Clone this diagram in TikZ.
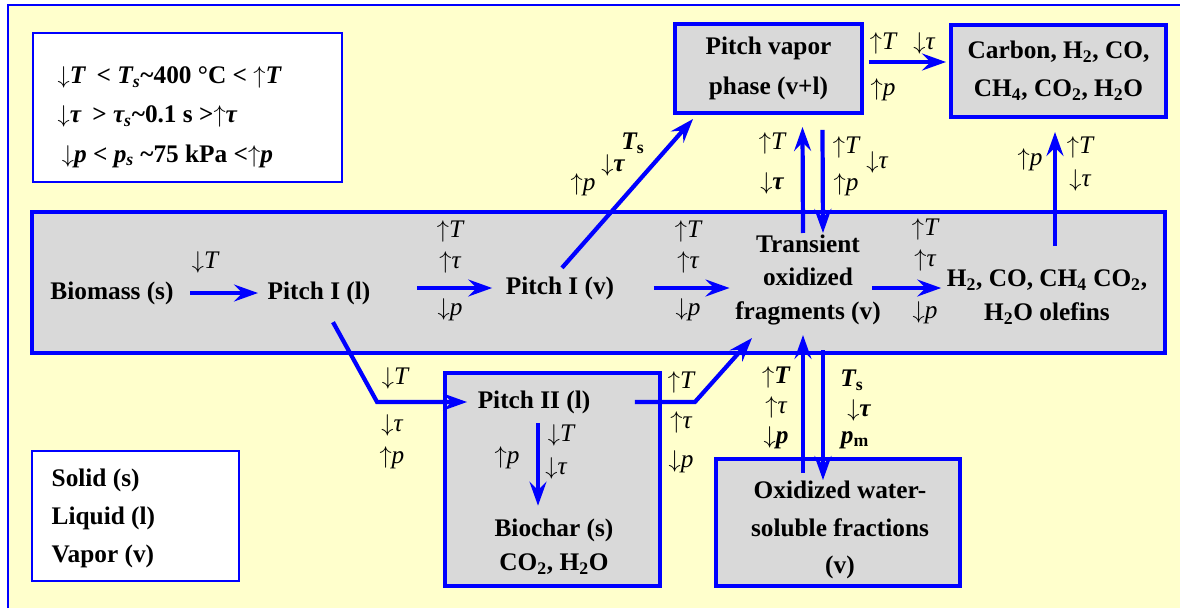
\documentclass[tikz,border=0pt]{standalone}
\usepackage{fontspec}
\setmainfont{Liberation Serif}
\usetikzlibrary{arrows.meta}
\definecolor{paper}{HTML}{FFFFCC}
\definecolor{boxgray}{HTML}{D9D9D9}
\newdimen\px \px=0.025cm
\tikzset{
  flow/.style={draw=blue, line width=3pt, -{Stealth[length=17pt, width=12pt, inset=6pt]}},
  stage/.style={draw=blue, line width=2.8pt, fill=boxgray},
  keybox/.style={draw=blue, line width=1.8pt, fill=white},
  txt/.style={font=\bfseries\fontsize{18}{24}\selectfont, align=center, inner sep=1pt},
  lbl/.style={font=\fontsize{18}{22}\selectfont\itshape, align=center, inner sep=1pt},
  blbl/.style={lbl, font=\fontsize{18}{22}\selectfont\bfseries\itshape},
}
\begin{document}
\begin{tikzpicture}[x=0.025cm, y=-0.025cm]
    \useasboundingbox (0,0) rectangle (1180,608);
    % Background
    \fill[white] (0,0) rectangle (1180,608);
    \fill[paper] (8,5) rectangle (1180,608);
    \draw[blue, line width=1.2pt] (8,608) -- (8,5) -- (1180,5);
    % Legends
    \node[keybox, minimum width=309\px, minimum height=149\px] (condbox) at (187.5,107.5) {};
    \node[txt, align=left, anchor=west] (conds) at (56,117) {$\downarrow$\textit{T} \,< \textit{T\textsubscript{s}}\textasciitilde400 °C < $\uparrow$\textit{T}\\[4pt]
        $\downarrow$\textit{τ} \,> \textit{τ\textsubscript{s}}\textasciitilde0.1 s >$\uparrow$\textit{τ}\\[4pt]
        \,$\downarrow$\textit{p} < \textit{p\textsubscript{s}} \textasciitilde75 kPa <$\uparrow$\textit{p}};
    \node[keybox, line width=1.5pt, minimum width=207\px, minimum height=130\px] (phasebox) at (135.5,516) {};
    \node[txt, align=left, anchor=west] (phases) at (50,518) {Solid (s)\\[3pt]Liquid (l)\\[3pt]Vapor (v)};
    % Reactor band
    \node[stage, minimum width=1133\px, minimum height=141\px] (reactor) at (598.5,282.5) {};
    \node[txt] (biomass) at (112,293) {Biomass (s)};
    \node[txt] (pitchl) at (319,293) {Pitch I (l)};
    \node[txt] (pitchv) at (560,288) {Pitch I (v)};
    \node[txt] (transient) at (808,280) {Transient\\oxidized\\fragments (v)};
    \node[txt] (gases) at (1047,297) {H\textsubscript{2}, CO, CH\textsubscript{4} CO\textsubscript{2},\\H\textsubscript{2}O olefins};
    % Top boxes
    \node[stage, txt, minimum width=187\px, minimum height=89\px] (vapor) at (768.5,68.5) {Pitch vapor\\[4pt]phase (v+l)};
    \node[stage, txt, minimum width=215\px, minimum height=92\px] (carbon) at (1058.5,71) {Carbon, H\textsubscript{2}, CO,\\[3pt]CH\textsubscript{4}, CO\textsubscript{2}, H\textsubscript{2}O};
    % Bottom boxes
    \node[stage, minimum width=215\px, minimum height=213\px] (pitchbox) at (552.5,479.5) {};
    \node[txt] (pitchII) at (534,402) {Pitch II (l)};
    \node[txt] (biochar) at (554,547) {Biochar (s)\\CO\textsubscript{2}, H\textsubscript{2}O};
    \node[stage, minimum width=244\px, minimum height=127\px] (oxbox) at (838,522.5) {};
    \node[txt] (oxid) at (840,530) {Oxidized water-\\[2.6pt]soluble fractions\\[2.6pt](v)};
    % Arrows in the band
    \draw[flow, shorten <=15\px, shorten >=8\px] (biomass) -- (pitchl);
    \draw[flow, shorten <=45\px, shorten >=12\px] (pitchl.east |- pitchv.west) -- (pitchv.west);
    \draw[flow, shorten <=38\px, shorten >=4\px] (pitchv.east) -- (pitchv.east -| transient.west);
    \draw[flow, shorten <=-10\px, shorten >=4\px] (transient.east |- pitchv.east) -- (gases.west |- pitchv.east);
    % Arrows up and out
    \draw[flow] ([xshift=2\px, yshift=7\px]pitchv.north) -- ([xshift=20\px, yshift=-4\px]vapor.south west);
    \draw[flow] ([xshift=-5\px]transient.north) -- ([xshift=34\px, yshift=-12\px]vapor.south);
    \draw[flow] ([xshift=54\px, yshift=-15\px]vapor.south) -- ([xshift=15\px]transient.north);
    \draw[flow] ([xshift=8\px, yshift=22\px]gases.north) -- ([xshift=-3.5\px, yshift=-13\px]carbon.south);
    \draw[flow] ([xshift=5\px, yshift=6.5\px]vapor.east) -- ([xshift=-3\px, yshift=9\px]carbon.west);
    % Arrows down and back
    \draw[flow] ([xshift=14\px, yshift=-16\px]pitchl.south) -- ([xshift=-99\px]pitchII.west) -- ([xshift=-9\px]pitchII.west);
    \draw[flow] ([xshift=4\px, yshift=-8\px]pitchII.south) -- ([xshift=-16\px, yshift=12\px]biochar.north);
    \draw[flow] ([xshift=43\px]pitchII.east) -- ([xshift=103\px]pitchII.east) -- ([xshift=-56\px, yshift=-11\px]transient.south);
    \draw[flow] ([xshift=-35\px, yshift=-16\px]oxbox.north) -- ([xshift=-5\px, yshift=-8\px]transient.south);
    \draw[flow] ([xshift=15\px, yshift=-23\px]transient.south) -- ([xshift=-15\px, yshift=-23\px]oxbox.north);
    % Labels in the band
    \node[lbl] (t1) at (205,262) {$\downarrow$\textit{T}};
    \node[lbl] (s2a) at (450,247) {$\uparrow$\textit{T}\\$\uparrow$\textit{τ}};
    \node[lbl] (s2b) at (450,310) {$\downarrow$\textit{p}};
    \node[lbl] (s3a) at (688,247) {$\uparrow$\textit{T}\\$\uparrow$\textit{τ}};
    \node[lbl] (s3b) at (688,310) {$\downarrow$\textit{p}};
    \node[lbl] (s4a) at (925,245) {$\uparrow$\textit{T}\\$\uparrow$\textit{τ}};
    \node[lbl] (s4b) at (925,313) {$\downarrow$\textit{p}};
    % Labels above the band
    \node[blbl] (d1) at (633,143) {\textit{T}\textsubscript{\upshape s}};
    \node[blbl] (d2) at (613,165) {$\downarrow$\textit{τ}};
    \node[lbl] (d3) at (583,185) {$\uparrow$\textit{p}};
    \node[lbl] (u1) at (772,143) {$\uparrow$\textit{T}};
    \node[blbl] (u2) at (772,183) {$\downarrow$\textit{τ}};
    \node[lbl] (r1) at (846,147) {$\uparrow$\textit{T}};
    \node[lbl] (r2) at (877,162) {$\downarrow$\textit{τ}};
    \node[lbl] (r3) at (846,185) {$\uparrow$\textit{p}};
    \node[lbl] (c1) at (883,43) {$\uparrow$\textit{T}};
    \node[lbl] (c2) at (924,43) {$\downarrow$\textit{τ}};
    \node[lbl] (c3) at (883,90) {$\uparrow$\textit{p}};
    \node[lbl] (g1) at (1030,160) {$\uparrow$\textit{p}};
    \node[lbl] (g2) at (1080,147) {$\uparrow$\textit{T}};
    \node[lbl] (g3) at (1080,180) {$\downarrow$\textit{τ}};
    % Labels below the band
    \node[lbl] (b1) at (395,378) {$\downarrow$\textit{T}};
    \node[lbl] (b2) at (392,425) {$\downarrow$\textit{τ}};
    \node[lbl] (b3) at (392,458) {$\uparrow$\textit{p}};
    \node[lbl] (h1) at (561,435) {$\downarrow$\textit{T}};
    \node[lbl] (h2) at (556,468) {$\downarrow$\textit{τ}};
    \node[lbl] (h3) at (507,458) {$\uparrow$\textit{p}};
    \node[lbl] (k1) at (681,382) {$\uparrow$\textit{T}};
    \node[lbl] (k2) at (681,422) {$\uparrow$\textit{τ}};
    \node[lbl] (k3) at (681,462) {$\downarrow$\textit{p}};
    \node[blbl] (w1) at (776,377) {$\uparrow$\textit{T}};
    \node[lbl] (w2) at (776,407) {$\uparrow$\textit{τ}};
    \node[blbl] (w3) at (776,438) {$\downarrow$\textit{p}};
    \node[blbl] (v1) at (852,380) {\textit{T}\textsubscript{\upshape s}};
    \node[blbl] (v2) at (859,410) {$\downarrow$\textit{τ}};
    \node[blbl] (v3) at (855,440) {\textit{p}\textsubscript{\upshape m}};
\end{tikzpicture}
\end{document}
